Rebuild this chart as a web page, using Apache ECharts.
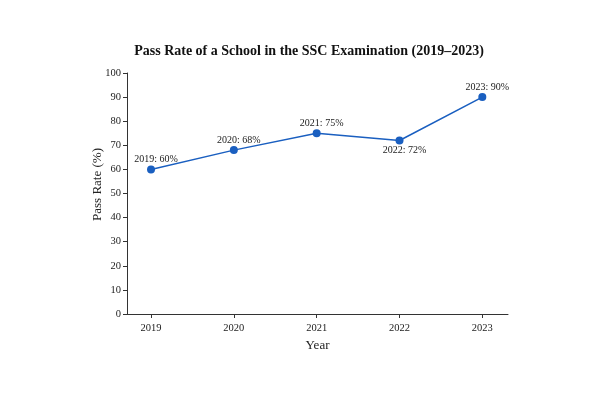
<!DOCTYPE html>
<html>
<head>
<meta charset="utf-8">
<script src="https://cdn.jsdelivr.net/npm/echarts@6/dist/echarts.min.js"></script>
<style>
  html, body { margin: 0; padding: 0; background: #fff; }
  #chart { width: 600px; height: 400px; }
</style>
</head>
<body>
<div id="chart"></div>
<script>
// 数据
var years = [2019, 2020, 2021, 2022, 2023];
var passRates = [60, 68, 75, 72, 90];
var yTicks = [0, 10, 20, 30, 40, 50, 60, 70, 80, 90, 100];
// 2022 的标签放在点下方
var labelBelow = [false, false, false, true, false];

var serif = '"Liberation Serif", "DejaVu Serif", serif';
var ink = '#222';

var chart = echarts.init(document.getElementById('chart'));

var points = years.map(function (y, i) {
    return {
        value: [y, passRates[i]],
        label: {position: labelBelow[i] ? 'bottom' : 'top'}
    };
});

var option = {
    animation: false,
    title: {
        text: 'Pass Rate of a School in the SSC Examination (2019\u20132023)',
        left: 304,
        textAlign: 'center',
        top: 39,
        textStyle: {fontFamily: serif, fontSize: 14, fontWeight: 'bold', color: '#111'}
    },
    grid: {left: 127, right: 92, top: 73, bottom: 86},
    xAxis: {
        type: 'value',
        min: 2018.71,
        max: 2023.31,
        name: 'Year',
        nameLocation: 'middle',
        nameGap: 25,
        nameTextStyle: {fontFamily: serif, fontSize: 13, color: ink},
        splitLine: {show: false},
        axisLine: {lineStyle: {color: '#333', width: 1}},
        axisTick: {show: true, length: 4, customValues: years, lineStyle: {color: '#333'}},
        axisLabel: {
            customValues: years,
            fontFamily: serif, fontSize: 10.5, color: ink, margin: 9,
            formatter: function (v) { return String(v); }
        }
    },
    yAxis: {
        type: 'value',
        min: 0,
        max: 100,
        interval: 10,
        name: 'Pass Rate (%)',
        nameLocation: 'middle',
        nameGap: 23,
        nameMoveOverlap: false,
        nameTextStyle: {fontFamily: serif, fontSize: 13, color: ink, padding: [0, 0, 0, 18]},
        splitLine: {show: false},
        axisLine: {show: true, lineStyle: {color: '#333', width: 1}},
        axisTick: {show: true, length: 4, lineStyle: {color: '#333'}},
        axisLabel: {
            fontFamily: serif, fontSize: 10.5, color: ink, margin: 6,
            formatter: function (v) { return yTicks.indexOf(v) >= 0 ? String(v) : ''; }
        }
    },
    series: [{
        type: 'line',
        data: points,
        symbol: 'circle',
        symbolSize: 8,
        lineStyle: {color: '#1a5fc0', width: 1.5},
        itemStyle: {color: '#1a5fc0'},
        label: {
            show: true,
            fontFamily: serif,
            fontSize: 10,
            color: ink,
            distance: 1,
            offset: [5, 0],
            formatter: function (p) { return p.value[0] + ': ' + p.value[1] + '%'; }
        }
    }]
};

chart.setOption(option);
</script>
</body>
</html>
